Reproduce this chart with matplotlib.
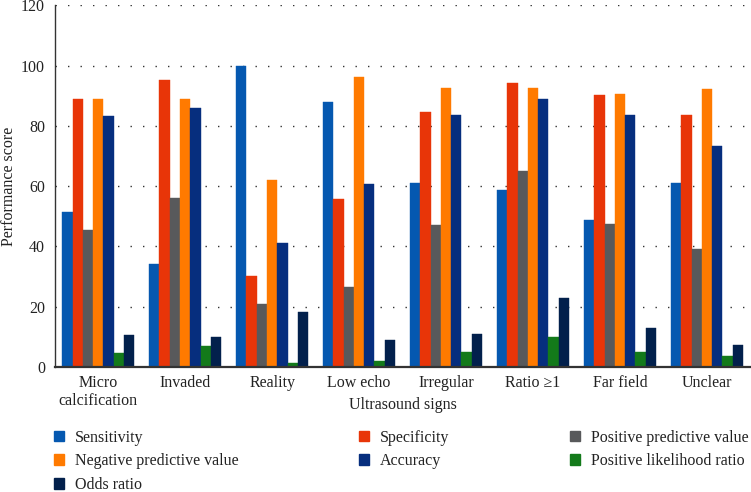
import numpy as np
import matplotlib
matplotlib.use("Agg")
import matplotlib.pyplot as plt
from matplotlib.patches import Patch

plt.rcParams['font.family'] = ['Liberation Serif', 'DejaVu Serif']

# ---- data ----
signs = ['Micro\ncalcification', 'Invaded', 'Reality', 'Low echo',
         'Irregular', 'Ratio ≥1', 'Far field', 'Unclear']

sensitivity = [51.3, 34.2, 100.0, 87.8, 61.0, 58.6, 48.7, 61.0]
specificity = [88.9, 95.2, 30.2, 55.6, 84.6, 94.2, 90.3, 83.7]
ppv = [45.6, 56.0, 20.8, 26.6, 47.2, 64.9, 47.6, 39.1]
npv = [88.9, 88.9, 62.2, 96.1, 92.5, 92.5, 90.6, 92.1]
accuracy = [83.2, 85.9, 41.0, 60.6, 83.5, 88.8, 83.8, 73.3]
plr = [4.6, 7.0, 1.4, 1.9, 4.9, 10.1, 5.1, 3.5]
odds_ratio = [10.7, 10.1, 18.3, 9.1, 11.1, 23.0, 13.0, 7.4]

series_names = ['Sensitivity', 'Specificity', 'Positive predictive value',
                'Negative predictive value', 'Accuracy',
                'Positive likelihood ratio', 'Odds ratio']
series_vals = [sensitivity, specificity, ppv, npv, accuracy, plr, odds_ratio]
colors = ['#0558B0', '#E83508', '#58595B', '#FF7A00', '#062E7E',
          '#137A1A', '#02204C']

# ---- figure ----
fig = plt.figure(figsize=(7.51, 4.92), dpi=100)
ax = fig.add_axes([0.0728, 0.254, 0.9265, 0.735])

x = np.arange(len(signs))
w = 0.118
n = len(series_vals)
for i, (vals, c) in enumerate(zip(series_vals, colors)):
    ax.bar(x + (i - (n - 1) / 2) * w, vals, width=w, color=c,
           edgecolor=c, linewidth=0.3, label=series_names[i])

ax.set_xlim(-0.5, len(signs) - 0.5)
ax.set_ylim(0, 120)
ax.set_yticks(range(0, 121, 20))
ax.set_xticks(x)
ax.set_xticklabels(signs, fontsize=11.5, linespacing=1.15)
ax.tick_params(axis='both', length=0, labelsize=11.5, colors='#222222')
ax.tick_params(axis='x', pad=6)
ax.tick_params(axis='y', pad=7)

ax.yaxis.grid(True, linestyle=(0, (1, 8)), color='#333333', linewidth=1.0)
ax.set_axisbelow(True)
for s in ['top', 'right']:
    ax.spines[s].set_visible(False)
ax.spines['left'].set_color('#333333')
ax.spines['bottom'].set_color('#333333')
ax.spines['left'].set_linewidth(1.0)
ax.spines['bottom'].set_linewidth(1.6)

ax.set_ylabel('Performance score', fontsize=11.5, color='#222222', va='center')
ax.yaxis.set_label_coords(-0.065, 0.5)
ax.set_xlabel('Ultrasound signs', fontsize=11.5, color='#222222', va='center')
ax.xaxis.set_label_coords(0.5, -0.104)

# legend: row-wise order -> reorder for column-major fill
order = [0, 3, 6, 1, 4, 2, 5]
handles = [Patch(facecolor=colors[i], edgecolor=colors[i]) for i in order]
labels = [series_names[i] for i in order]
fig.legend(handles, labels, loc='upper left', bbox_to_anchor=(0.072, 0.127),
           ncol=3, frameon=False, fontsize=11.5, handlelength=0.65,
           handleheight=0.65, handletextpad=0.65, labelspacing=0.49,
           columnspacing=7.55, borderpad=0, borderaxespad=0,
           labelcolor='#222222')

fig.savefig('out.png', dpi=100)
